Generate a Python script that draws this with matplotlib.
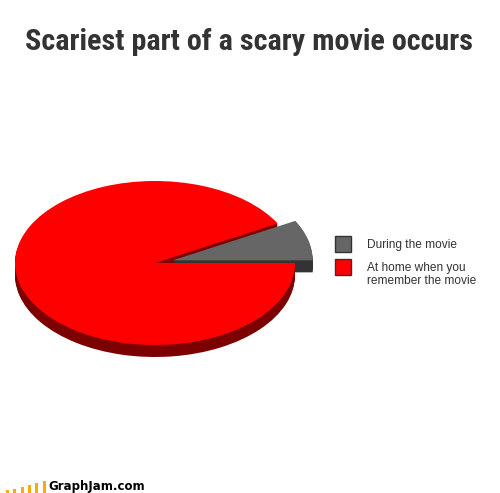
import matplotlib
matplotlib.use('Agg')
import matplotlib.pyplot as plt
from matplotlib import font_manager
from matplotlib.patches import Rectangle

# data
labels = ['During the movie', 'At home when you\nremember the movie']
values = [8, 92]
top_colors = ['#666666', '#ff0000']
side_colors = ['#333333', '#7d0000']
logo_heights = [3, 4, 6, 8, 10, 12]

W, H = 500, 493
fig = plt.figure(figsize=(W / 100, H / 100), dpi=100)
fig.patch.set_facecolor('white')

# pie geometry in pixels
cx, cy = 155, 263
rx, ry = 140, 82
depth = 12

ax = fig.add_axes([0, 0, 1, 1])
explode = [0.13, 0]
for k in range(depth, 0, -1):
    ax.pie(values, colors=side_colors, explode=explode, startangle=0,
           counterclock=True, center=(0, -k / ry), radius=1,
           wedgeprops=dict(linewidth=0))
ax.pie(values, colors=top_colors, explode=explode, startangle=0,
       counterclock=True, center=(0, 0), radius=1,
       wedgeprops=dict(linewidth=0))
ax.set_aspect('auto')
ax.set_xlim(-cx / rx, (W - cx) / rx)
ax.set_ylim((cy - H) / ry, cy / ry)
ax.axis('off')

# title - pick the most condensed heavy face available
fonts = font_manager.fontManager.ttflist
tprops = dict(family='DejaVu Sans', fontweight='bold')
for fam in ['Liberation Sans Narrow', 'Roboto Condensed', 'Open Sans Condensed']:
    if any(f.name == fam for f in fonts):
        tprops = dict(family=fam, fontweight='bold')
        break
else:
    if any(f.name == 'DejaVu Sans' and f.stretch == 'condensed' for f in fonts):
        tprops = dict(family='DejaVu Sans', fontweight='bold', fontstretch='condensed')
title = fig.text(25 / W, 1 - 50 / H, 'Scariest part of a scary movie occurs',
                 fontsize=21, color='#333333', ha='left', va='baseline', **tprops)
fig.canvas.draw()
bb = title.get_window_extent()
title.set_fontsize(21 * 447 / bb.width)

# legend
sq = 16
for i, (lab, col) in enumerate(zip(labels, top_colors)):
    y0 = 236 + i * 23
    fig.patches.append(Rectangle((335 / W, 1 - (y0 + sq) / H), sq / W, sq / H,
                                 transform=fig.transFigure, facecolor=col,
                                 edgecolor='#333333', linewidth=1))
    fig.text(367 / W, 1 - (y0 + 3) / H, lab, fontsize=8.6, family='Liberation Sans',
             color='#333333', ha='left', va='top', linespacing=1.1)

# logo
for i, h in enumerate(logo_heights):
    x0 = 6 + i * 7.3
    fig.patches.append(Rectangle((x0 / W, 1 - 493 / H), 3 / W, h / H,
                                 transform=fig.transFigure, facecolor='#ffaa00',
                                 edgecolor='none'))
fig.text(48 / W, 1 - 490 / H, 'GraphJam.com', fontsize=8.5, fontweight='bold',
         family='DejaVu Sans', color='black', ha='left', va='baseline')

fig.savefig('out.png', dpi=100, facecolor='white')
